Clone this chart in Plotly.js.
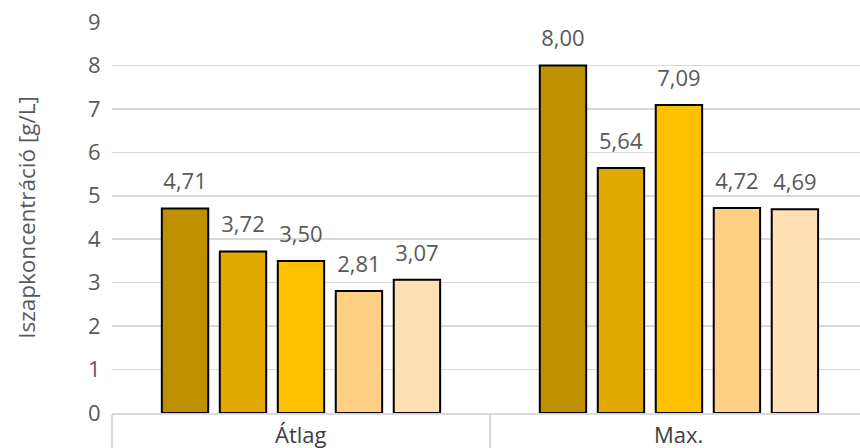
<!DOCTYPE html>
<html>
<head>
<meta charset="utf-8">
<script src="https://cdn.plot.ly/plotly-3.0.1.min.js"></script>
<style>
  html, body { margin: 0; padding: 0; background: #fff; }
  #chart { width: 860px; height: 448px; }
</style>
</head>
<body>
<div id="chart"></div>
<script>
// Categories on the x axis
const categories = ["Átlag", "Max."];

// Five series, one bar per category each
const seriesNames = ["1", "2", "3", "4", "5"];
const series1 = [4.71, 8.00];
const series2 = [3.72, 5.64];
const series3 = [3.50, 7.09];
const series4 = [2.81, 4.72];
const series5 = [3.07, 4.69];
const seriesValues = [series1, series2, series3, series4, series5];

// Gold palette, dark to light
const seriesColors = ["#BF9000", "#E0A800", "#FFC000", "#FFD083", "#FFE0B5"];

const yTicks = [0, 1, 2, 3, 4, 5, 6, 7, 8, 9];

const textGray = "#595959";
const gridGray = "#d9d9d9";
const fontFamily = "'Open Sans', 'Noto Sans', sans-serif";
const labelSize = 22;

// Value label: large first line, then a small blank line that lifts the
// number a little higher above the bar end.
const valueTemplate =
  "<span style='font-size:" + labelSize + "px'>%{y:.2f}</span><br>&nbsp;";

const traces = seriesValues.map((vals, i) => ({
  type: "bar",
  name: seriesNames[i],
  x: categories,
  y: vals,
  marker: { color: seriesColors[i], line: { color: "#000000", width: 2 } },
  texttemplate: valueTemplate,
  textposition: "outside",
  constraintext: "none",
  textfont: { color: textGray, size: 10, family: fontFamily },
  cliponaxis: false,
  hoverinfo: "x+y"
}));

const layout = {
  width: 860,
  height: 448,
  margin: { l: 112, r: 0, t: 22, b: 35 },
  paper_bgcolor: "#ffffff",
  plot_bgcolor: "#ffffff",
  separators: ", ",
  showlegend: false,
  barmode: "group",
  bargap: 0.233,
  bargroupgap: 0.2,
  font: { family: fontFamily, color: textGray, size: labelSize },
  xaxis: {
    type: "category",
    range: [-0.5, 1.479],
    showline: true,
    linecolor: gridGray,
    linewidth: 1.5,
    ticks: "outside",
    tickson: "boundaries",
    ticklen: 35,
    tickcolor: gridGray,
    tickwidth: 1.5,
    showticklabels: false,
    showgrid: false,
    zeroline: false
  },
  yaxis: {
    range: [0, 9],
    tickvals: yTicks,
    ticktext: yTicks.map(String),
    showgrid: true,
    gridcolor: gridGray,
    gridwidth: 1.5,
    zeroline: false,
    showline: false,
    ticks: "outside",
    ticklen: 6,
    tickcolor: "rgba(0,0,0,0)",
    tickfont: { size: labelSize, color: textGray, family: fontFamily },
    title: {
      text: "Iszapkoncentráció [g/L]",
      font: { size: 22.5, color: textGray, family: fontFamily },
      standoff: 46
    }
  },
  // Category names sit between the boundary ticks, below the axis line
  annotations: categories.map(c => ({
    x: c,
    xref: "x",
    y: 0,
    yref: "paper",
    yanchor: "top",
    yshift: -4,
    text: c,
    showarrow: false,
    font: { size: labelSize, color: "#404040", family: fontFamily }
  }))
};

Plotly.newPlot("chart", traces, layout, { displayModeBar: false, staticPlot: true });
</script>
</body>
</html>
